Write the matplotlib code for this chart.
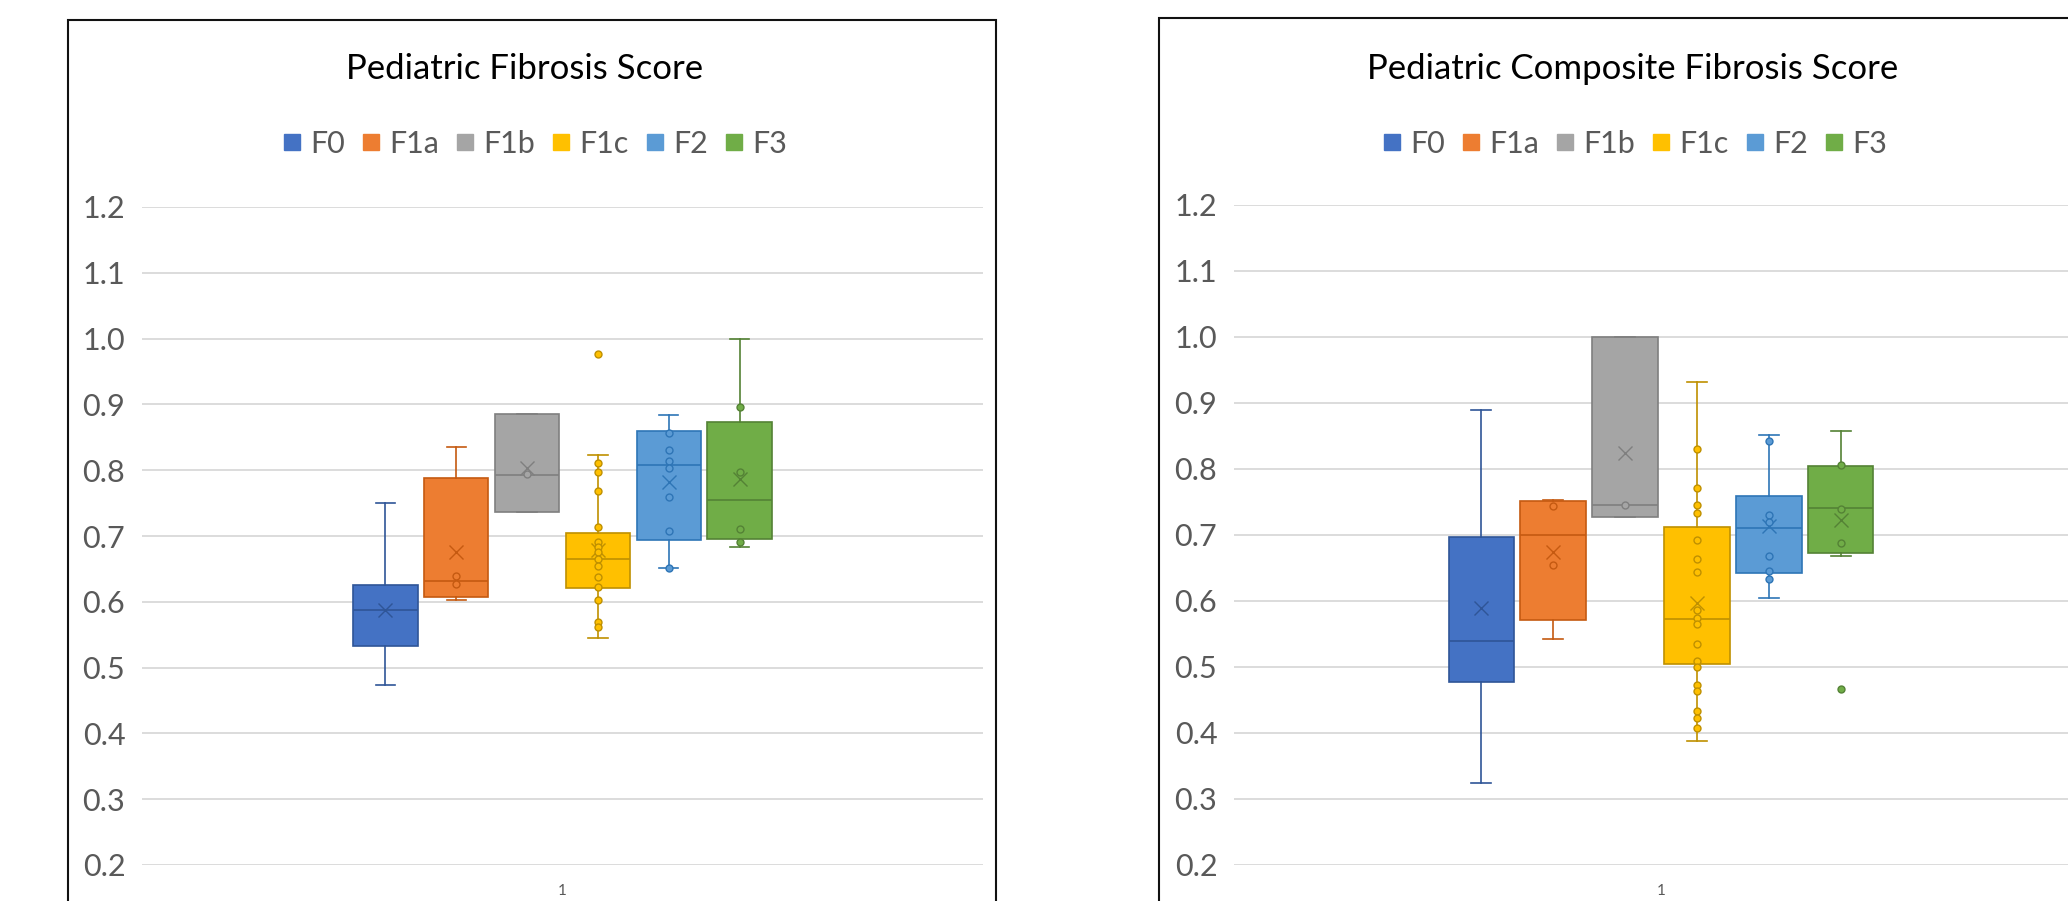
import numpy as np
import matplotlib
matplotlib.use("Agg")
import matplotlib.pyplot as plt
from matplotlib.lines import Line2D
from matplotlib.patches import Rectangle

# ---------------- data ----------------
series = ["F0", "F1a", "F1b", "F1c", "F2", "F3"]
category_labels = ["1"]
y_ticks = [0.2, 0.3, 0.4, 0.5, 0.6, 0.7, 0.8, 0.9, 1.0, 1.1, 1.2]

titles = ["Pediatric Fibrosis Score", "Pediatric Composite Fibrosis Score"]

# Pediatric Fibrosis Score (left)
pfs_low = [0.473, 0.602, 0.737, 0.545, 0.651, 0.683]
pfs_q1 = [0.533, 0.608, 0.737, 0.621, 0.694, 0.696]
pfs_med = [0.588, 0.632, 0.792, 0.665, 0.808, 0.754]
pfs_q3 = [0.625, 0.788, 0.886, 0.705, 0.860, 0.873]
pfs_high = [0.750, 0.836, 0.886, 0.823, 0.884, 1.000]
pfs_mean = [0.587, 0.675, 0.803, 0.678, 0.782, 0.787]
pfs_points = [
    [],
    [0.639, 0.627],
    [0.794],
    [0.811, 0.798, 0.769, 0.713, 0.691, 0.683, 0.675, 0.665, 0.654, 0.637,
     0.622, 0.602, 0.570, 0.562],
    [0.857, 0.830, 0.814, 0.803, 0.759, 0.708, 0.651],
    [0.896, 0.798, 0.710, 0.691],
]
pfs_outliers = [[], [], [], [0.977], [], []]

# Pediatric Composite Fibrosis Score (right)
pcfs_low = [0.324, 0.542, 0.728, 0.388, 0.604, 0.668]
pcfs_q1 = [0.477, 0.571, 0.728, 0.504, 0.642, 0.672]
pcfs_med = [0.539, 0.700, 0.746, 0.573, 0.711, 0.741]
pcfs_q3 = [0.697, 0.752, 1.000, 0.712, 0.759, 0.805]
pcfs_high = [0.890, 0.753, 1.000, 0.932, 0.851, 0.857]
pcfs_mean = [0.589, 0.674, 0.824, 0.597, 0.714, 0.722]
pcfs_points = [
    [],
    [0.744, 0.655],
    [0.746],
    [0.830, 0.771, 0.746, 0.734, 0.692, 0.664, 0.644, 0.586, 0.575, 0.565,
     0.535, 0.509, 0.500, 0.473, 0.463, 0.434, 0.422, 0.408],
    [0.842, 0.730, 0.719, 0.668, 0.646, 0.634],
    [0.806, 0.739, 0.688],
]
pcfs_outliers = [[], [], [], [], [], [0.467]]

# ---------------- style ----------------
fills = ["#4472C4", "#ED7D31", "#A5A5A5", "#FFC000", "#5B9BD5", "#70AD47"]
edges = ["#2F5597", "#C55A11", "#7F7F7F", "#BF9000", "#2E75B6", "#548235"]
FONT = ["Lato", "DejaVu Sans"]
GRAY_TXT = "#595959"

W, H = 2068, 901
fig = plt.figure(figsize=(W / 100, H / 100), dpi=100)
fig.patch.set_facecolor("white")


def fx(px):
    return px / W


def fy(py):
    return 1 - py / H


def draw_panel(ax, low, q1, med, q3, high, mean, points, outliers):
    step = 0.0842
    width = 0.0765
    n = len(series)
    for i in range(n):
        pos = 1 + (i - (n - 1) / 2) * step
        st = dict(med=med[i], q1=q1[i], q3=q3[i], whislo=low[i], whishi=high[i],
                  mean=mean[i], fliers=[])
        ax.bxp([st], positions=[pos], widths=[width], capwidths=[0.023],
               patch_artist=True, showmeans=True, showfliers=False,
               boxprops=dict(facecolor=fills[i], edgecolor=edges[i], linewidth=1.2),
               medianprops=dict(color=edges[i], linewidth=1.2),
               whiskerprops=dict(color=edges[i], linewidth=1.2),
               capprops=dict(color=edges[i], linewidth=1.2),
               meanprops=dict(marker="x", markeredgecolor=edges[i],
                              markerfacecolor="none", markersize=10,
                              markeredgewidth=1.0),
               manage_ticks=False, zorder=3)
        pts = points[i] + outliers[i]
        if pts:
            ax.plot([pos] * len(pts), pts, "o", ls="none", mfc=fills[i],
                    mec=edges[i], ms=5, mew=1.0, zorder=4)
    ax.set_xlim(0.5, 1.5)
    ax.set_ylim(0.2, 1.2)
    ax.set_yticks(y_ticks)
    ax.set_yticklabels([f"{t:.1f}" for t in y_ticks], family=FONT,
                       fontsize=22, color=GRAY_TXT)
    ax.set_xticks([1])
    ax.set_xticklabels(category_labels, family=FONT, fontsize=11,
                       color=GRAY_TXT)
    ax.tick_params(axis="y", length=0, pad=12)
    ax.tick_params(axis="x", length=0, pad=14)
    for s in ax.spines.values():
        s.set_visible(False)
    ax.grid(axis="y", color="#D9D9D9", linewidth=1.3, zorder=0)
    ax.set_axisbelow(True)
    ax.set_facecolor("none")


axL = fig.add_axes([fx(142), fy(865), fx(983) - fx(142), fy(207) - fy(865)])
axR = fig.add_axes([fx(1234), fy(865), fx(2088) - fx(1234), fy(205) - fy(865)])

draw_panel(axL, pfs_low, pfs_q1, pfs_med, pfs_q3, pfs_high, pfs_mean,
           pfs_points, pfs_outliers)
draw_panel(axR, pcfs_low, pcfs_q1, pcfs_med, pcfs_q3, pcfs_high, pcfs_mean,
           pcfs_points, pcfs_outliers)

# chart frames
for x0, x1, y0 in [(68, 996, 20), (1159, 2103, 18)]:
    fig.add_artist(Rectangle((fx(x0), fy(940)), fx(x1) - fx(x0), fy(y0) - fy(940),
                             transform=fig.transFigure, fill=False,
                             edgecolor="#111111", linewidth=1.5, zorder=0))

# titles
for cx, t in [(525, titles[0]), (1633, titles[1])]:
    fig.text(fx(cx), fy(79), t, ha="center", va="baseline", family=FONT,
             fontsize=25, color="#000000")

# legends
handles = [Line2D([], [], marker="s", ls="none", mfc=c, mec=c, ms=11)
           for c in fills]
for cx in [535, 1635]:
    fig.legend(handles, series, loc="center", bbox_to_anchor=(fx(cx), fy(144)),
               ncol=6, frameon=False, handlelength=0.6, handletextpad=0.3,
               columnspacing=0.55, borderpad=0, borderaxespad=0,
               prop=dict(family=FONT, size=22), labelcolor=GRAY_TXT)

fig.savefig("out.png", dpi=100, facecolor="white")
